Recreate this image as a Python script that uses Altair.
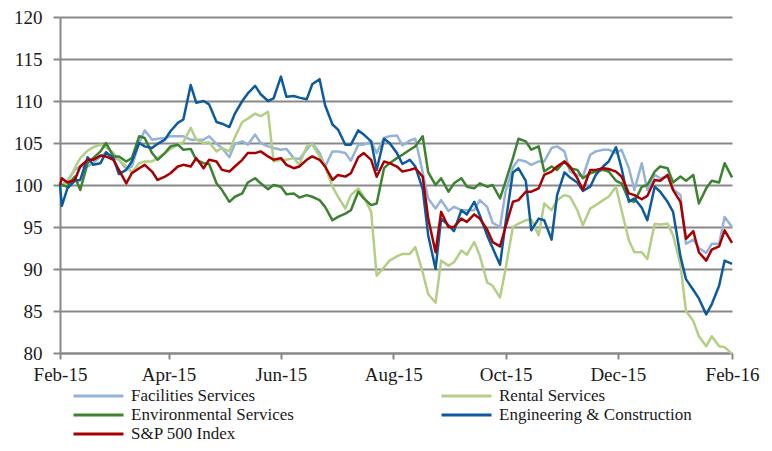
import altair as alt
import pandas as pd

dates = [
    "2015-02-01",
    "2015-02-02", "2015-02-05", "2015-02-09", "2015-02-12", "2015-02-16", "2015-02-19", "2015-02-23", "2015-02-26",
    "2015-03-02", "2015-03-05", "2015-03-09", "2015-03-12", "2015-03-16", "2015-03-19", "2015-03-23", "2015-03-26", "2015-03-30",
    "2015-04-02", "2015-04-06", "2015-04-09", "2015-04-13", "2015-04-16", "2015-04-20", "2015-04-23", "2015-04-27", "2015-04-30",
    "2015-05-04", "2015-05-07", "2015-05-11", "2015-05-14", "2015-05-18", "2015-05-21", "2015-05-25", "2015-05-28",
    "2015-06-01", "2015-06-04", "2015-06-08", "2015-06-11", "2015-06-15", "2015-06-18", "2015-06-22", "2015-06-25", "2015-06-29",
    "2015-07-02", "2015-07-06", "2015-07-09", "2015-07-13", "2015-07-16", "2015-07-20", "2015-07-23", "2015-07-27", "2015-07-30",
    "2015-08-03", "2015-08-06", "2015-08-10", "2015-08-13", "2015-08-17", "2015-08-20", "2015-08-24", "2015-08-27", "2015-08-31",
    "2015-09-03", "2015-09-07", "2015-09-10", "2015-09-14", "2015-09-17", "2015-09-21", "2015-09-24", "2015-09-28",
    "2015-10-01", "2015-10-05", "2015-10-08", "2015-10-12", "2015-10-15", "2015-10-19", "2015-10-22", "2015-10-26", "2015-10-29",
    "2015-11-02", "2015-11-05", "2015-11-09", "2015-11-12", "2015-11-16", "2015-11-19", "2015-11-23", "2015-11-26", "2015-11-30",
    "2015-12-03", "2015-12-07", "2015-12-10", "2015-12-14", "2015-12-17", "2015-12-21", "2015-12-24", "2015-12-28", "2015-12-31",
    "2016-01-04", "2016-01-07", "2016-01-11", "2016-01-14", "2016-01-18", "2016-01-21", "2016-01-25", "2016-01-28",
    "2016-02-01",
]

facilities = [
    100.0,
    100.0, 100.5, 101.8, 102.2, 102.2, 102.6, 103.4, 103.8,
    103.3, 103.0, 101.9, 102.2, 105.0, 106.5, 105.4, 105.5, 105.6,
    105.8, 105.8, 105.8, 105.4, 105.4, 105.4, 105.8, 104.9, 104.4,
    103.3, 104.9, 105.2, 104.8, 106.0, 105.0, 104.6, 104.4,
    104.2, 104.3, 103.2, 103.1, 104.2, 105.0, 103.8, 102.2, 104.0,
    104.0, 103.8, 102.9, 104.8, 104.8, 105.2, 103.8, 105.6, 105.8,
    105.9, 104.7, 105.3, 105.5, 101.5, 98.4, 97.2, 98.2, 96.9,
    97.4, 97.0, 97.0, 97.0, 98.2, 97.4, 95.5, 95.0,
    99.2, 102.1, 103.0, 102.8, 102.4, 102.8, 102.8, 104.4, 104.6,
    104.0, 101.6, 101.2, 101.0, 103.6, 104.0, 104.2, 104.2, 103.8,
    104.2, 102.0, 99.4, 102.6, 99.4, 101.2, 100.8, 101.0, 99.5,
    98.8, 93.0, 93.5, 92.5, 91.9, 93.0, 93.0, 96.2,
    95.0,
]

rental = [
    100.0,
    100.0, 100.2, 102.0, 103.2, 104.1, 104.5, 104.8, 104.5,
    103.8, 103.0, 102.2, 101.5, 102.6, 102.8, 102.8, 103.2, 103.8,
    104.3, 104.8, 105.1, 106.8, 105.4, 105.0, 105.1, 104.0, 104.4,
    104.0, 105.7, 107.5, 107.9, 108.5, 108.2, 108.7, 102.8,
    103.0, 103.0, 103.2, 102.4, 104.6, 104.8, 103.4, 102.2, 99.8,
    98.6, 97.2, 98.8, 99.6, 98.6, 96.8, 89.2, 90.2, 91.0,
    91.5, 91.8, 91.8, 92.6, 89.6, 87.0, 86.0, 91.0, 90.4,
    90.8, 92.2, 91.7, 93.2, 91.6, 88.4, 88.0, 86.6,
    90.0, 95.0, 95.4, 95.8, 95.9, 94.0, 97.8, 97.0, 98.2,
    98.8, 98.6, 97.0, 95.2, 97.2, 97.6, 98.2, 98.6, 99.8,
    97.0, 93.4, 92.0, 92.0, 91.2, 95.4, 95.3, 95.4, 94.0,
    90.5, 85.0, 83.8, 82.0, 80.8, 82.0, 80.8, 80.7,
    79.9,
]

environmental = [
    100.0,
    100.0, 99.8, 101.0, 99.4, 102.6, 103.2, 104.0, 105.0,
    103.4, 103.4, 102.8, 103.2, 105.8, 105.6, 103.8, 103.0, 103.8,
    104.6, 104.8, 104.2, 104.3, 103.0, 102.6, 102.5, 100.2, 99.4,
    98.0, 98.6, 99.0, 100.3, 100.8, 100.2, 99.5, 100.0,
    99.8, 98.9, 99.0, 98.5, 98.8, 98.6, 98.2, 97.4, 95.8,
    96.2, 96.6, 97.0, 99.2, 98.4, 97.6, 97.8, 102.0, 102.6,
    103.2, 103.6, 104.2, 104.6, 105.8, 101.5, 100.0, 100.8, 99.2,
    100.2, 100.8, 99.8, 99.6, 100.2, 99.8, 100.0, 98.4,
    100.4, 103.2, 105.5, 105.2, 104.2, 104.6, 101.6, 102.2, 101.8,
    102.8, 102.0, 101.8, 100.8, 101.4, 101.6, 101.8, 101.6, 100.5,
    100.2, 98.2, 98.0, 99.8, 100.0, 101.6, 102.2, 102.0, 100.3,
    101.0, 100.5, 101.2, 97.8, 99.6, 100.5, 100.3, 102.6,
    100.9,
]

engineering = [
    100.0,
    97.5, 99.6, 100.5, 100.6, 103.3, 102.4, 102.6, 103.9,
    103.2, 101.3, 101.8, 102.8, 105.0, 104.6, 104.4, 104.9, 105.4,
    106.4, 107.4, 107.8, 111.9, 109.8, 110.0, 109.6, 107.5, 107.3,
    106.9, 108.5, 110.0, 110.9, 111.8, 110.8, 110.0, 110.3,
    112.9, 110.5, 110.6, 110.4, 110.2, 112.0, 112.6, 109.5, 107.2,
    106.6, 104.8, 104.8, 106.5, 106.0, 105.2, 101.8, 105.5, 105.0,
    103.8, 102.5, 103.0, 102.2, 99.5, 94.0, 90.0, 96.0, 95.2,
    94.5, 97.0, 96.5, 98.0, 96.4, 94.0, 92.5, 90.5,
    95.5, 101.5, 102.0, 100.5, 94.6, 96.0, 95.8, 93.5, 98.8,
    101.5, 100.9, 100.3, 99.3, 99.8, 101.2, 102.2, 102.8, 104.5,
    102.0, 98.0, 98.4, 97.3, 95.8, 99.8, 99.2, 98.0, 96.8,
    91.5, 88.8, 87.5, 86.5, 84.6, 85.8, 88.0, 91.0,
    90.6,
]

sp500 = [
    100.0,
    100.8, 100.3, 100.6, 102.2, 103.0, 103.0, 103.5, 103.4,
    103.0, 101.8, 100.2, 101.4, 102.0, 102.4, 101.6, 100.6, 101.0,
    101.4, 102.2, 102.4, 102.2, 103.2, 102.0, 103.0, 102.8, 101.8,
    101.6, 102.2, 103.0, 103.8, 103.8, 104.0, 103.4, 103.0,
    103.2, 102.4, 102.0, 102.2, 103.0, 103.4, 103.0, 102.2, 100.6,
    101.2, 101.0, 101.4, 103.3, 103.8, 103.0, 101.0, 102.8, 102.6,
    102.2, 101.6, 101.8, 102.0, 101.0, 96.0, 92.0, 96.8, 95.0,
    95.0, 96.0, 95.6, 96.5, 96.0, 94.7, 93.2, 92.7,
    95.0, 98.0, 98.2, 99.2, 99.2, 99.6, 101.2, 101.6, 102.2,
    102.8, 102.2, 100.8, 99.4, 101.8, 101.8, 102.0, 101.9, 101.6,
    101.0, 99.0, 98.8, 98.3, 98.7, 100.6, 100.5, 101.2, 99.4,
    98.0, 93.6, 94.5, 92.0, 91.0, 92.3, 92.7, 94.6,
    93.1,
]

# drawing order (bottom to top)
series_names = [
    "Facilities Services",
    "Rental Services",
    "Environmental Services",
    "Engineering & Construction",
    "S&P 500 Index",
]
series_colors = {
    "Facilities Services": "#95B3D7",
    "Rental Services": "#B3CF85",
    "Environmental Services": "#3D8230",
    "Engineering & Construction": "#0D5A9E",
    "S&P 500 Index": "#A80000",
}
# legend order (filled column by column, 2 columns)
legend_order = [
    "Facilities Services",
    "Environmental Services",
    "S&P 500 Index",
    "Rental Services",
    "Engineering & Construction",
]
y_ticks = [80, 85, 90, 95, 100, 105, 110, 115, 120]
x_tick_months = [(2015, 2), (2015, 4), (2015, 6), (2015, 8), (2015, 10), (2015, 12), (2016, 2)]

FONT = "Liberation Serif"

rows = []
for name, vals in zip(series_names, [facilities, rental, environmental, engineering, sp500]):
    assert len(vals) == len(dates), name
    for i, (d, v) in enumerate(zip(dates, vals)):
        rows.append({"date": d, "value": v, "series": name, "idx": i})
df = pd.DataFrame(rows)

tick_values = [alt.DateTime(year=y, month=m, date=1, utc=True) for y, m in x_tick_months]

lines = alt.Chart(df).mark_line(strokeWidth=2.5, strokeJoin="round").encode(
    x=alt.X(
        "date:T",
        scale=alt.Scale(type="utc", domain=[tick_values[0], tick_values[-1]]),
        axis=alt.Axis(
            values=tick_values,
            format="%b-%y",
            title=None,
            grid=False,
            domainColor="#888888",
            domainWidth=2,
            tickColor="#888888",
            tickWidth=2,
            tickSize=6,
            labelPadding=6,
            labelFlush=False,
            labelOverlap=False,
            labelFont=FONT,
            labelFontSize=19,
            labelColor="#1a1a1a",
        ),
    ),
    y=alt.Y(
        "value:Q",
        scale=alt.Scale(domain=[80, 120], nice=False, zero=False),
        axis=alt.Axis(
            values=y_ticks,
            title=None,
            grid=True,
            gridColor="#888888",
            gridWidth=2,
            domainColor="#888888",
            domainWidth=2,
            tickColor="#888888",
            tickWidth=2,
            tickSize=7,
            labelPadding=11,
            labelFlush=False,
            labelFont=FONT,
            labelFontSize=19,
            labelColor="#1a1a1a",
        ),
    ),
    color=alt.Color(
        "series:N",
        scale=alt.Scale(domain=legend_order, range=[series_colors[s] for s in legend_order]),
        legend=alt.Legend(
            title=None,
            orient="none",
            legendX=12,
            legendY=371,
            columns=2,
            columnPadding=146,
            rowPadding=2,
            clipHeight=16,
            symbolType="stroke",
            symbolSize=2500,
            symbolStrokeWidth=3,
            labelOffset=6,
            labelLimit=0,
            labelFont=FONT,
            labelFontSize=17,
            labelColor="#1a1a1a",
        ),
    ),
    order="idx:Q",
)

border = alt.Chart(pd.DataFrame({"k": [0]})).mark_rule(color="#8c8c8c", strokeWidth=1.5).encode(
    x=alt.value(707), y=alt.value(-9), y2=alt.value(426)
)

chart = alt.layer(lines, border).properties(
    width=672,
    height=336,
    autosize=alt.AutoSizeParams(type="none"),
    padding={"left": 52, "top": 9, "right": 32, "bottom": 90},
    background="white",
).configure_view(stroke=None).configure_axis(
    labelFont=FONT,
    labelFontSize=19,
    labelColor="#1a1a1a",
)

chart.save("out.html", embed_options={"renderer": "svg", "actions": False})
